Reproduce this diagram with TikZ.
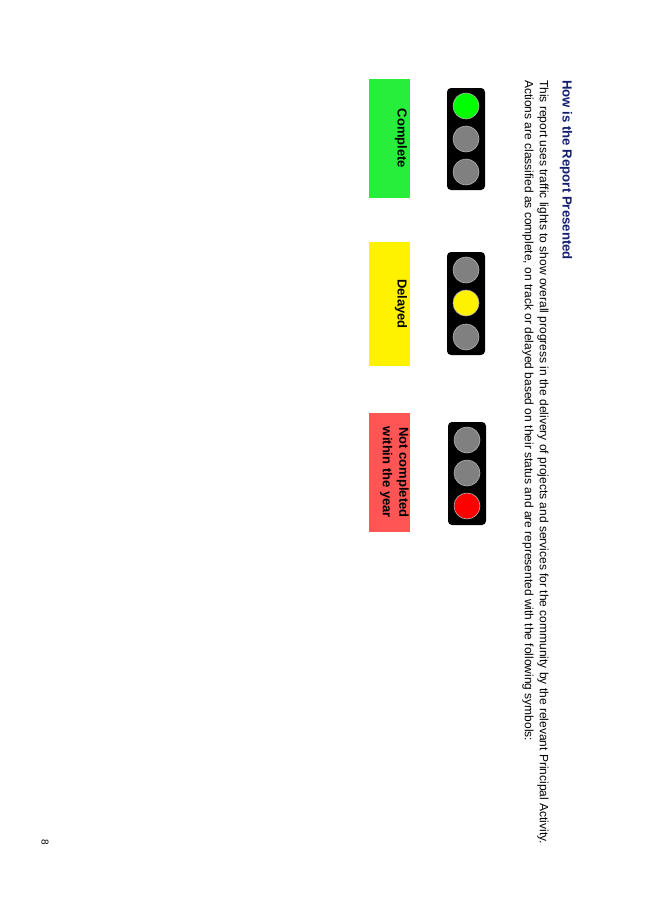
\documentclass[tikz,border=0pt]{standalone}
\usepackage{fontspec}
\setmainfont{Liberation Sans}
\begin{document}
\begin{tikzpicture}[x=1pt,y=-1pt,
  txt/.style={rotate=-90,anchor=west,inner sep=0pt,font=\fontsize{12}{14}\selectfont},
  housing/.style={fill=black,rounded corners=4pt},
  lamp/.style={circle,minimum size=26pt,inner sep=0pt,draw=gray!60,line width=0.6pt},
  lbl/.style={rotate=-90,inner sep=0pt,align=center,font=\fontsize{13}{16.5}\selectfont\bfseries}]
\useasboundingbox[fill=white] (0,0) rectangle (653,924);
\definecolor{navy}{RGB}{20,30,110}
\definecolor{lgreen}{RGB}{39,238,58}
\definecolor{lred}{RGB}{255,85,85}
\node[txt,font=\fontsize{13.2}{15}\selectfont\bfseries,text=navy] (title) at (566,80) {How is the Report Presented};
\node[txt] (l1) at (543,80) {This report uses traffic lights to show overall progress in the delivery of projects and services for the community by the relevant Principal Activity.};
\node[txt] (l2) at (528,80) {Actions are classified as complete, on track or delayed based on their status and are represented with the following symbols:};
% traffic lights
\fill[housing] (447,88) rectangle (485,190);
\fill[housing] (447,252) rectangle (485,355);
\fill[housing] (448,422) rectangle (486,525);
\node[lamp,fill=green] (g1) at (466,106) {};
\node[lamp,fill=gray] (g2) at (466,139) {};
\node[lamp,fill=gray] (g3) at (466,172) {};
\node[lamp,fill=gray] (y1) at (466,270) {};
\node[lamp,fill=yellow] (y2) at (466,303) {};
\node[lamp,fill=gray] (y3) at (466,337) {};
\node[lamp,fill=gray] (r1) at (467,440) {};
\node[lamp,fill=gray] (r2) at (467,473) {};
\node[lamp,fill=red] (r3) at (467,506) {};
% label boxes
\fill[lgreen] (369,79) rectangle (410,198);
\fill[yellow] (369,242) rectangle (410,366);
\fill[lred] (369,413) rectangle (410,532);
\node[lbl] (c) at (401,138.5) {Complete};
\node[lbl] (d) at (401,304) {Delayed};
\node[lbl] (n) at (394.5,472.5) {Not completed\\within the year};
\node[rotate=-90,font=\fontsize{10}{12}\selectfont] (pg) at (45,842) {8};
\end{tikzpicture}
\end{document}
